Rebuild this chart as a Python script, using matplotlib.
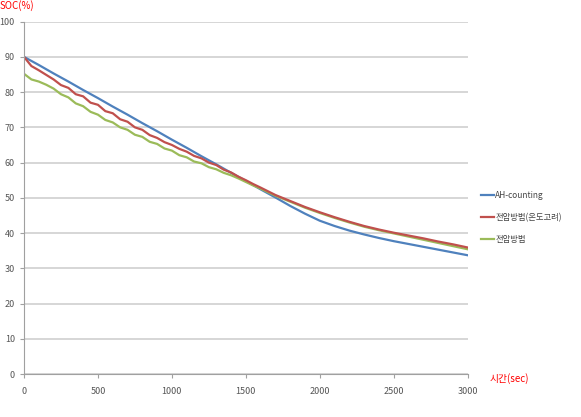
import matplotlib
matplotlib.use("Agg")
import matplotlib.pyplot as plt

# AH-counting (every 100 s)
t_blue = list(range(0, 3001, 100))
soc_blue = [90.0, 87.7, 85.3, 83.0, 80.6, 78.3, 75.9, 73.6, 71.2, 68.9,
            66.5, 64.2, 61.8, 59.5, 57.1, 54.8, 52.4, 50.1, 47.7, 45.5,
            43.5, 42.0, 40.7, 39.6, 38.6, 37.7, 36.9, 36.1, 35.3, 34.5, 33.7]

# voltage method with temperature (50 s steps up to 1600, then 100 s)
t_red = list(range(0, 1601, 50)) + list(range(1700, 3001, 100))
soc_red = [90.0, 87.4, 86.2, 84.9, 83.6, 82.0, 81.2, 79.4, 78.8, 77.0,
           76.4, 74.6, 74.0, 72.3, 71.6, 70.0, 69.3, 67.8, 67.0, 65.8,
           65.0, 63.9, 63.1, 61.9, 61.2, 60.0, 59.3, 58.0, 57.2, 56.0,
           55.0, 53.9, 52.9,
           50.8, 49.1, 47.4, 45.9, 44.5, 43.2, 42.0, 41.0, 40.1, 39.3,
           38.5, 37.6, 36.8, 35.9]

# voltage method
t_green = list(range(0, 1601, 50)) + list(range(1700, 3001, 100))
soc_green = [85.2, 83.6, 83.0, 82.1, 81.0, 79.4, 78.5, 76.8, 76.0, 74.4,
             73.6, 72.1, 71.4, 70.0, 69.3, 67.9, 67.3, 65.9, 65.3, 64.0,
             63.4, 62.1, 61.5, 60.3, 59.8, 58.7, 58.1, 57.1, 56.4, 55.5,
             54.5, 53.5, 52.6,
             50.6, 48.9, 47.2, 45.7, 44.3, 43.0, 41.8, 40.8, 39.9, 39.0,
             38.1, 37.2, 36.3, 35.4]

labels = ["AH-counting", "전압방법(온도고려)", "전압방법"]
colors = ["#4F81BD", "#C0504D", "#9BBB59"]

plt.rcParams['font.family'] = ['Noto Sans CJK KR', 'DejaVu Sans']

fig = plt.figure(figsize=(5.81, 4.17), dpi=100)
ax = fig.add_axes([0.0413, 0.1031, 0.7637, 0.845])

ax.plot(t_blue, soc_blue, color=colors[0], lw=1.6, label=labels[0])
ax.plot(t_green, soc_green, color=colors[2], lw=1.6, label=labels[2])
ax.plot(t_red, soc_red, color=colors[1], lw=1.6, label=labels[1])

ax.set_xlim(0, 3000)
ax.set_ylim(0, 100)
ax.set_xticks(range(0, 3001, 500))
ax.set_yticks(range(0, 101, 10))
ax.yaxis.grid(True, color="#d0d0d0", lw=1.2)
ax.set_axisbelow(True)
for s in ["top", "right"]:
    ax.spines[s].set_visible(False)
for s in ["left", "bottom"]:
    ax.spines[s].set_color("#a0a0a0")
ax.tick_params(colors="#a0a0a0", labelcolor="#555555", labelsize=6.5, length=3)
ax.tick_params(axis="x", pad=6)

fig.text(0.0, 0.999, "SOC(%)", color="red", fontsize=7, va="top", ha="left")
fig.text(0.843, 0.093, "시간(sec)", color="red", fontsize=7, va="center", ha="left")

handles, labs = ax.get_legend_handles_labels()
order = [0, 2, 1]
fig.legend([handles[i] for i in order], [labs[i] for i in order],
           loc="upper left", bbox_to_anchor=(0.815, 0.56), frameon=False,
           fontsize=6, handlelength=1.6, handletextpad=0.1, labelspacing=1.55,
           labelcolor="#444444")

fig.savefig("out.png", dpi=100)
